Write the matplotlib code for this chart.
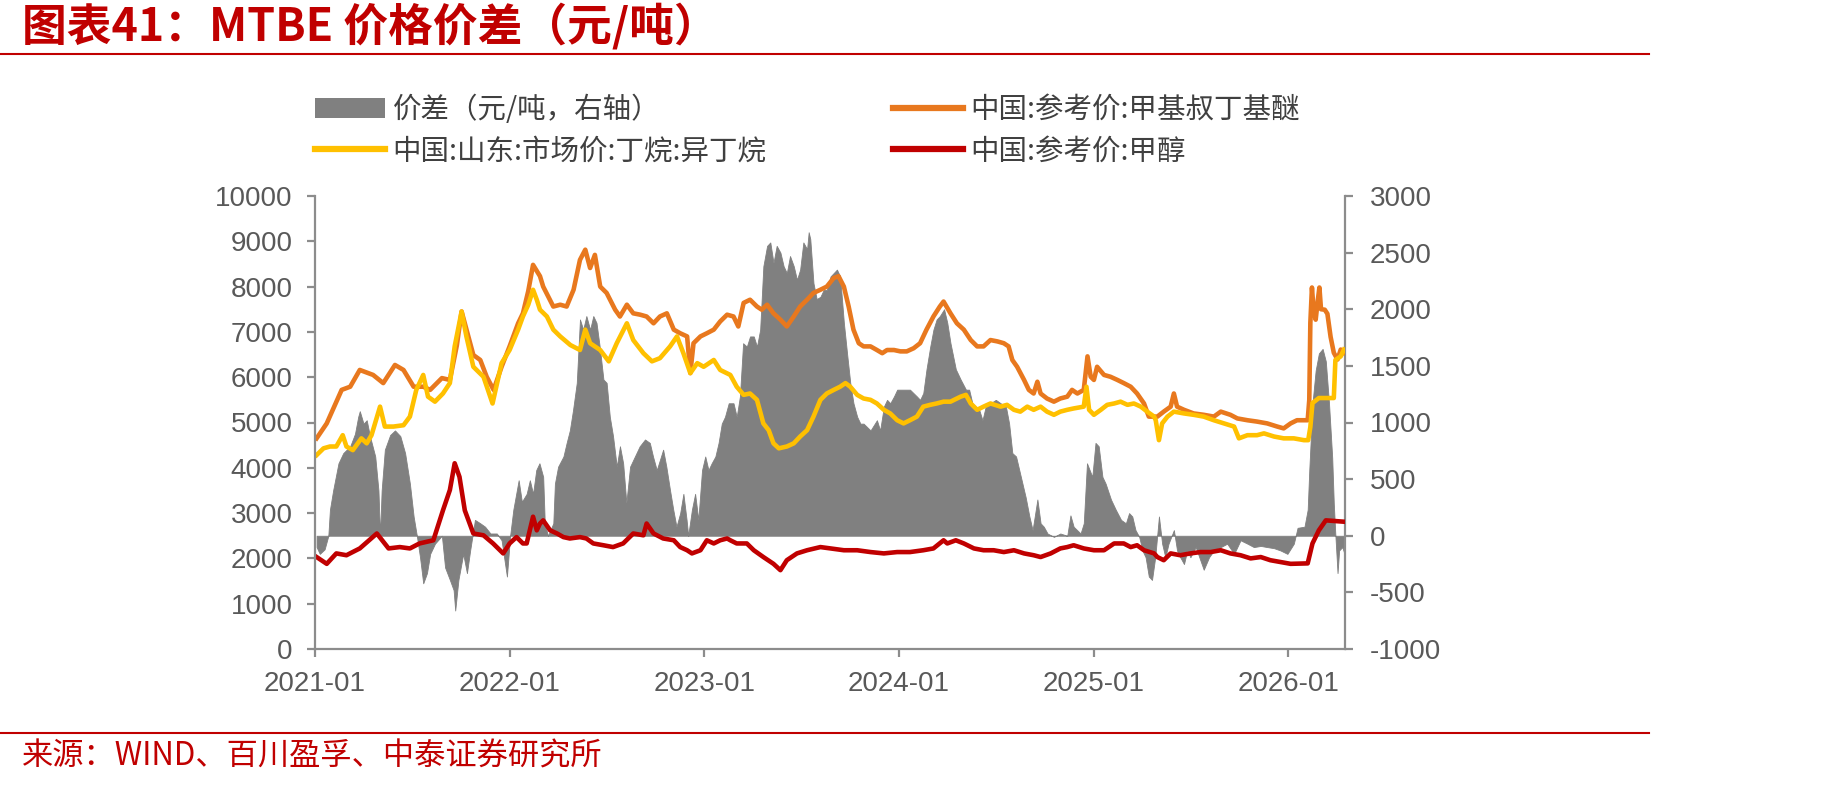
import matplotlib
matplotlib.use("Agg")
import matplotlib.pyplot as plt
from matplotlib.patches import Patch
from matplotlib.lines import Line2D
import pandas as pd

CJK = ['Noto Sans CJK SC', 'DejaVu Sans']
plt.rcParams['font.family'] = ['Liberation Sans', 'Noto Sans CJK SC', 'DejaVu Sans']

title_text = '图表41：MTBE 价格价差（元/吨）'
source_text = '来源：WIND、百川盈孚、中泰证券研究所'
label_spread = '价差（元/吨，右轴）'
label_mtbe = '中国:参考价:甲基叔丁基醚'
label_butane = '中国:山东:市场价:丁烷:异丁烷'
label_methanol = '中国:参考价:甲醇'

left_ticks = [0, 1000, 2000, 3000, 4000, 5000, 6000, 7000, 8000, 9000, 10000]
right_ticks = [-1000, -500, 0, 500, 1000, 1500, 2000, 2500, 3000]
x_tick_dates = ['2021-01-01', '2022-01-01', '2023-01-01', '2024-01-01', '2025-01-01', '2026-01-01']
x_tick_labels = ['2021-01', '2022-01', '2023-01', '2024-01', '2025-01', '2026-01']

mtbe_dates = [
    '2021-01-04', '2021-01-23', '2021-02-20', '2021-03-08', '2021-03-26', '2021-04-20', '2021-05-09', '2021-05-31',
    '2021-06-16', '2021-07-05', '2021-07-23', '2021-08-05', '2021-08-27', '2021-09-11', '2021-09-24', '2021-10-03',
    '2021-10-25', '2021-11-07', '2021-11-19', '2021-12-02', '2021-12-17', '2022-01-01', '2022-01-17', '2022-01-26',
    '2022-02-05', '2022-02-14', '2022-02-27', '2022-03-05', '2022-03-24', '2022-04-06', '2022-04-18', '2022-05-01',
    '2022-05-13', '2022-05-23', '2022-06-01', '2022-06-10', '2022-06-20', '2022-07-02', '2022-07-18', '2022-07-27',
    '2022-08-09', '2022-08-21', '2022-09-03', '2022-09-15', '2022-09-28', '2022-10-10', '2022-10-23', '2022-11-05',
    '2022-11-17', '2022-11-30', '2022-12-06', '2022-12-12', '2022-12-25', '2023-01-06', '2023-01-19', '2023-01-31',
    '2023-02-13', '2023-02-25', '2023-03-06', '2023-03-16', '2023-03-28', '2023-04-10', '2023-04-19', '2023-04-29',
    '2023-05-11', '2023-05-24', '2023-06-05', '2023-06-18', '2023-06-30', '2023-07-13', '2023-07-25', '2023-08-07',
    '2023-08-19', '2023-09-01', '2023-09-10', '2023-09-20', '2023-09-29', '2023-10-08', '2023-10-18', '2023-10-27',
    '2023-11-09', '2023-11-21', '2023-12-01', '2023-12-10', '2023-12-23', '2024-01-04', '2024-01-16', '2024-01-29',
    '2024-02-10', '2024-02-22', '2024-03-06', '2024-03-18', '2024-03-25', '2024-04-07', '2024-04-19', '2024-05-02',
    '2024-05-15', '2024-05-27', '2024-06-08', '2024-06-21', '2024-07-04', '2024-07-16', '2024-07-25', '2024-08-01',
    '2024-08-10', '2024-08-23', '2024-09-01', '2024-09-10', '2024-09-17', '2024-09-23', '2024-10-05', '2024-10-18',
    '2024-10-30', '2024-11-12', '2024-11-21', '2024-12-01', '2024-12-13', '2024-12-20', '2024-12-26', '2025-01-01',
    '2025-01-07', '2025-01-20', '2025-02-01', '2025-02-14', '2025-02-26', '2025-03-11', '2025-03-23', '2025-04-05',
    '2025-04-14', '2025-04-30', '2025-05-12', '2025-05-25', '2025-05-31', '2025-06-06', '2025-06-19', '2025-07-07',
    '2025-07-26', '2025-08-14', '2025-08-27', '2025-09-14', '2025-09-27', '2025-10-16', '2025-11-03', '2025-11-22',
    '2025-12-11', '2025-12-23', '2026-01-05', '2026-01-17', '2026-02-06', '2026-02-09', '2026-02-11', '2026-02-14',
    '2026-02-17', '2026-02-21', '2026-02-25', '2026-02-28', '2026-03-03', '2026-03-10', '2026-03-15', '2026-03-21',
    '2026-03-27', '2026-04-03', '2026-04-09', '2026-04-15']
mtbe_values = [
    4650, 4980, 5720, 5790, 6160, 6050, 5870, 6270,
    6160, 5790, 5790, 5720, 5980, 5940, 6700, 7450,
    6490, 6380, 6010, 5720, 6230, 6680, 7190, 7410,
    7900, 8480, 8230, 8000, 7560, 7600, 7560, 7930,
    8590, 8815, 8410, 8700, 8000, 7860, 7490, 7340,
    7600, 7410, 7380, 7340, 7190, 7340, 7410, 7050,
    6970, 6900, 6090, 6750, 6900, 6970, 7050, 7230,
    7380, 7340, 7120, 7640, 7710, 7560, 7490, 7600,
    7410, 7270, 7120, 7340, 7560, 7710, 7860, 7930,
    8000, 8190, 8230, 8000, 7560, 7050, 6750, 6680,
    6680, 6600, 6530, 6600, 6600, 6570, 6570, 6640,
    6750, 7050, 7340, 7560, 7670, 7410, 7190, 7050,
    6820, 6680, 6680, 6820, 6790, 6750, 6680, 6380,
    6230, 5940, 5720, 5640, 5900, 5640, 5530, 5460,
    5530, 5570, 5720, 5640, 5720, 6460, 6010, 5940,
    6230, 6050, 6010, 5940, 5870, 5790, 5640, 5420,
    5130, 5130, 5240, 5350, 5640, 5350, 5280, 5200,
    5170, 5130, 5240, 5170, 5090, 5050, 5020, 4980,
    4910, 4870, 4980, 5050, 5050, 5500, 7200, 7980,
    7500, 7270, 7700, 7980, 7500, 7490, 7400, 6890,
    6540, 6390, 6610, 6540]

butane_dates = [
    '2021-01-04', '2021-01-17', '2021-01-29', '2021-02-10', '2021-02-22', '2021-03-01', '2021-03-13', '2021-03-29',
    '2021-04-08', '2021-04-17', '2021-05-03', '2021-05-12', '2021-05-28', '2021-06-16', '2021-06-28', '2021-07-10',
    '2021-07-23', '2021-08-01', '2021-08-14', '2021-08-29', '2021-09-11', '2021-09-20', '2021-10-03', '2021-10-12',
    '2021-10-25', '2021-11-13', '2021-11-30', '2021-12-17', '2022-01-01', '2022-01-17', '2022-01-26', '2022-02-05',
    '2022-02-14', '2022-02-21', '2022-02-27', '2022-03-12', '2022-03-24', '2022-04-06', '2022-04-25', '2022-05-13',
    '2022-05-23', '2022-06-01', '2022-06-20', '2022-07-06', '2022-07-21', '2022-08-09', '2022-08-21', '2022-09-09',
    '2022-09-25', '2022-10-10', '2022-10-29', '2022-11-11', '2022-11-23', '2022-12-06', '2022-12-19', '2022-12-31',
    '2023-01-19', '2023-01-31', '2023-02-19', '2023-03-03', '2023-03-16', '2023-03-28', '2023-04-10', '2023-04-22',
    '2023-05-02', '2023-05-11', '2023-05-21', '2023-06-05', '2023-06-18', '2023-06-30', '2023-07-13', '2023-07-25',
    '2023-08-07', '2023-08-19', '2023-09-01', '2023-09-13', '2023-09-23', '2023-10-02', '2023-10-15', '2023-10-27',
    '2023-11-09', '2023-11-21', '2023-12-04', '2023-12-16', '2023-12-29', '2024-01-10', '2024-01-22', '2024-02-04',
    '2024-02-16', '2024-02-29', '2024-03-12', '2024-03-25', '2024-04-07', '2024-04-26', '2024-05-06', '2024-05-15',
    '2024-05-27', '2024-06-08', '2024-06-21', '2024-07-10', '2024-07-22', '2024-08-04', '2024-08-16', '2024-08-29',
    '2024-09-10', '2024-09-23', '2024-10-05', '2024-10-18', '2024-10-30', '2024-11-12', '2024-11-24', '2024-12-13',
    '2024-12-18', '2024-12-23', '2025-01-01', '2025-01-14', '2025-01-26', '2025-02-08', '2025-02-20', '2025-03-05',
    '2025-03-17', '2025-03-30', '2025-04-11', '2025-04-24', '2025-04-27', '2025-05-03', '2025-05-09', '2025-05-19',
    '2025-05-31', '2025-06-19', '2025-07-07', '2025-07-26', '2025-08-14', '2025-09-02', '2025-09-21', '2025-09-30',
    '2025-10-16', '2025-11-03', '2025-11-16', '2025-12-05', '2025-12-23', '2026-01-11', '2026-01-30', '2026-02-07',
    '2026-02-11', '2026-02-15', '2026-02-27', '2026-03-27', '2026-03-30', '2026-04-09', '2026-04-15']
butane_values = [
    4280, 4430, 4470, 4470, 4720, 4470, 4390, 4650,
    4540, 4720, 5350, 4910, 4910, 4940, 5130, 5720,
    6050, 5570, 5460, 5640, 5870, 6680, 7450, 6900,
    6230, 6010, 5420, 6310, 6600, 7050, 7340, 7600,
    7930, 7710, 7490, 7340, 7050, 6900, 6710, 6600,
    7050, 6750, 6600, 6350, 6750, 7190, 6820, 6530,
    6350, 6420, 6680, 6900, 6530, 6090, 6310, 6230,
    6380, 6160, 6050, 5790, 5610, 5640, 5500, 4980,
    4830, 4540, 4430, 4470, 4540, 4690, 4830, 5130,
    5500, 5640, 5720, 5790, 5870, 5790, 5610, 5530,
    5500, 5420, 5280, 5200, 5050, 4980, 5050, 5130,
    5350, 5390, 5420, 5460, 5460, 5570, 5610, 5420,
    5280, 5350, 5420, 5350, 5390, 5280, 5240, 5350,
    5280, 5350, 5240, 5170, 5240, 5280, 5310, 5350,
    5790, 5280, 5170, 5280, 5390, 5420, 5460, 5390,
    5420, 5350, 5240, 5130, 5050, 4610, 4980, 5130,
    5240, 5200, 5170, 5130, 5050, 4980, 4910, 4650,
    4720, 4720, 4760, 4690, 4650, 4650, 4610, 4610,
    4900, 5430, 5540, 5540, 6380, 6460, 6610]

methanol_dates = [
    '2021-01-04', '2021-01-23', '2021-02-10', '2021-03-01', '2021-03-26', '2021-04-27', '2021-05-19', '2021-06-09',
    '2021-06-28', '2021-07-16', '2021-08-11', '2021-08-29', '2021-09-11', '2021-09-20', '2021-09-29', '2021-10-09',
    '2021-10-25', '2021-11-13', '2021-12-01', '2021-12-20', '2022-01-01', '2022-01-14', '2022-01-26', '2022-02-02',
    '2022-02-14', '2022-02-21', '2022-02-27', '2022-03-05', '2022-03-18', '2022-03-31', '2022-04-12', '2022-04-24',
    '2022-05-13', '2022-05-25', '2022-06-07', '2022-06-26', '2022-07-14', '2022-08-02', '2022-08-21', '2022-09-09',
    '2022-09-15', '2022-09-28', '2022-10-16', '2022-11-05', '2022-11-17', '2022-11-30', '2022-12-09', '2022-12-25',
    '2023-01-06', '2023-01-19', '2023-01-31', '2023-02-13', '2023-02-19', '2023-03-03', '2023-03-22', '2023-04-04',
    '2023-04-22', '2023-05-11', '2023-05-24', '2023-06-05', '2023-06-24', '2023-07-13', '2023-08-07', '2023-08-26',
    '2023-09-20', '2023-10-15', '2023-11-09', '2023-12-04', '2023-12-29', '2024-01-22', '2024-02-16', '2024-03-06',
    '2024-03-25', '2024-04-01', '2024-04-17', '2024-05-02', '2024-05-21', '2024-06-08', '2024-06-27', '2024-07-16',
    '2024-08-04', '2024-08-23', '2024-09-10', '2024-09-23', '2024-10-12', '2024-10-30', '2024-11-12', '2024-11-24',
    '2024-12-13', '2025-01-01', '2025-01-20', '2025-02-08', '2025-02-26', '2025-03-11', '2025-03-23', '2025-04-05',
    '2025-04-24', '2025-04-30', '2025-05-12', '2025-05-25', '2025-06-12', '2025-07-01', '2025-07-20', '2025-08-08',
    '2025-08-27', '2025-09-14', '2025-10-03', '2025-10-22', '2025-11-10', '2025-11-28', '2025-12-17', '2026-01-05',
    '2026-02-06', '2026-02-15', '2026-02-27', '2026-03-12', '2026-04-15']
methanol_values = [
    2030, 1880, 2110, 2070, 2220, 2550, 2220, 2250,
    2220, 2330, 2400, 3060, 3510, 4100, 3800, 3060,
    2550, 2510, 2330, 2110, 2330, 2470, 2330, 2330,
    2920, 2620, 2770, 2840, 2620, 2550, 2470, 2440,
    2470, 2440, 2330, 2290, 2250, 2330, 2550, 2510,
    2770, 2550, 2440, 2400, 2250, 2180, 2110, 2180,
    2400, 2330, 2400, 2440, 2400, 2330, 2330, 2180,
    2030, 1880, 1740, 1960, 2110, 2180, 2250, 2220,
    2180, 2180, 2140, 2110, 2140, 2140, 2180, 2220,
    2400, 2330, 2400, 2330, 2220, 2180, 2180, 2140,
    2180, 2110, 2070, 2030, 2110, 2220, 2250, 2290,
    2220, 2180, 2180, 2330, 2330, 2250, 2290, 2180,
    2110, 2030, 1960, 2110, 2070, 2110, 2140, 2140,
    2180, 2110, 2070, 2000, 2030, 1960, 1920, 1880,
    1890, 2330, 2620, 2840, 2810]

spread_dates = [
    '2021-01-04', '2021-01-10', '2021-01-19', '2021-01-26', '2021-01-29', '2021-02-04', '2021-02-14', '2021-02-23',
    '2021-03-08', '2021-03-17', '2021-03-23', '2021-03-26', '2021-04-02', '2021-04-08', '2021-04-14', '2021-04-24',
    '2021-04-30', '2021-05-03', '2021-05-06', '2021-05-12', '2021-05-22', '2021-05-31', '2021-06-10', '2021-06-19',
    '2021-06-28', '2021-07-05', '2021-07-11', '2021-07-17', '2021-07-23', '2021-07-30', '2021-08-05', '2021-08-14',
    '2021-08-27', '2021-09-02', '2021-09-11', '2021-09-18', '2021-09-21', '2021-09-27', '2021-10-06', '2021-10-13',
    '2021-10-19', '2021-10-28', '2021-11-07', '2021-11-16', '2021-11-26', '2021-12-08', '2021-12-17', '2021-12-27',
    '2022-01-02', '2022-01-08', '2022-01-18', '2022-01-24', '2022-02-02', '2022-02-08', '2022-02-14', '2022-02-20',
    '2022-02-26', '2022-03-05', '2022-03-08', '2022-03-14', '2022-03-24', '2022-03-27', '2022-04-02', '2022-04-12',
    '2022-04-18', '2022-04-24', '2022-04-30', '2022-05-07', '2022-05-13', '2022-05-19', '2022-05-25', '2022-06-01',
    '2022-06-07', '2022-06-13', '2022-06-19', '2022-06-26', '2022-07-02', '2022-07-08', '2022-07-14', '2022-07-21',
    '2022-07-27', '2022-08-02', '2022-08-08', '2022-08-15', '2022-08-24', '2022-09-02', '2022-09-12', '2022-09-21',
    '2022-09-27', '2022-10-04', '2022-10-16', '2022-10-22', '2022-10-29', '2022-11-04', '2022-11-10', '2022-11-17',
    '2022-11-23', '2022-11-29', '2022-12-02', '2022-12-09', '2022-12-15', '2022-12-21', '2022-12-28', '2023-01-03',
    '2023-01-09', '2023-01-15', '2023-01-22', '2023-01-28', '2023-02-03', '2023-02-09', '2023-02-16', '2023-02-25',
    '2023-03-03', '2023-03-09', '2023-03-15', '2023-03-22', '2023-03-28', '2023-04-04', '2023-04-10', '2023-04-16',
    '2023-04-22', '2023-04-29', '2023-05-05', '2023-05-11', '2023-05-17', '2023-05-24', '2023-05-30', '2023-06-05',
    '2023-06-11', '2023-06-18', '2023-06-24', '2023-06-30', '2023-07-06', '2023-07-13', '2023-07-16', '2023-07-19',
    '2023-07-25', '2023-07-31', '2023-08-07', '2023-08-13', '2023-08-19', '2023-08-26', '2023-09-01', '2023-09-07',
    '2023-09-13', '2023-09-20', '2023-09-26', '2023-10-02', '2023-10-08', '2023-10-15', '2023-10-21', '2023-10-27',
    '2023-11-09', '2023-11-21', '2023-11-27', '2023-12-04', '2023-12-10', '2023-12-16', '2023-12-23', '2023-12-29',
    '2024-01-10', '2024-01-22', '2024-02-04', '2024-02-10', '2024-02-16', '2024-02-22', '2024-02-29', '2024-03-06',
    '2024-03-12', '2024-03-18', '2024-03-26', '2024-04-01', '2024-04-07', '2024-04-17', '2024-04-26', '2024-05-06',
    '2024-05-12', '2024-05-18', '2024-05-24', '2024-05-31', '2024-06-06', '2024-06-12', '2024-06-21', '2024-07-01',
    '2024-07-10', '2024-07-20', '2024-07-26', '2024-08-01', '2024-08-08', '2024-08-17', '2024-08-26', '2024-09-02',
    '2024-09-08', '2024-09-17', '2024-09-23', '2024-09-29', '2024-10-06', '2024-10-18', '2024-10-30', '2024-11-12',
    '2024-11-18', '2024-11-24', '2024-12-07', '2024-12-13', '2024-12-19', '2024-12-29', '2025-01-04', '2025-01-10',
    '2025-01-17', '2025-01-23', '2025-02-02', '2025-02-11', '2025-02-21', '2025-03-02', '2025-03-08', '2025-03-14',
    '2025-03-20', '2025-03-27', '2025-04-02', '2025-04-08', '2025-04-14', '2025-04-20', '2025-04-26', '2025-05-03',
    '2025-05-09', '2025-05-15', '2025-05-21', '2025-05-31', '2025-06-06', '2025-06-12', '2025-06-19', '2025-06-25',
    '2025-07-01', '2025-07-11', '2025-07-20', '2025-07-26', '2025-08-05', '2025-08-14', '2025-08-27', '2025-09-08',
    '2025-09-21', '2025-10-03', '2025-10-16', '2025-10-28', '2025-11-10', '2025-11-22', '2025-12-05', '2025-12-17',
    '2025-12-30', '2026-01-11', '2026-01-18', '2026-01-31', '2026-02-06', '2026-02-09', '2026-02-15', '2026-02-21',
    '2026-02-27', '2026-03-06', '2026-03-12', '2026-03-18', '2026-03-24', '2026-03-27', '2026-03-30', '2026-04-03',
    '2026-04-06', '2026-04-12', '2026-04-16']
spread_values = [
    -100, -160, -120, 0, 230, 400, 640, 730,
    790, 900, 1050, 1100, 990, 1020, 880, 700,
    400, 0, 400, 760, 890, 930, 880, 730,
    460, 170, 0, -190, -420, -330, -160, -70,
    0, -280, -390, -480, -660, -390, -160, -330,
    -130, 140, 110, 80, 20, 20, -40, -360,
    0, 230, 490, 300, 370, 490, 370, 580,
    640, 520, 110, 0, 110, 460, 610, 700,
    820, 930, 1110, 1350, 1910, 1820, 1940, 1820,
    1940, 1880, 1670, 1380, 1350, 1050, 880, 610,
    790, 640, 290, 610, 700, 790, 850, 820,
    700, 580, 760, 610, 400, 230, 80, 200,
    370, 140, 0, 230, 370, 140, 580, 700,
    580, 640, 700, 820, 990, 1050, 1170, 1170,
    1050, 1230, 1700, 1670, 1760, 1760, 1670, 1820,
    2380, 2560, 2590, 2410, 2560, 2500, 2380, 2320,
    2470, 2380, 2260, 2350, 2590, 2530, 2680, 2620,
    2230, 2090, 2110, 2170, 2170, 2290, 2320, 2350,
    2290, 1880, 1610, 1350, 1170, 1050, 990, 990,
    930, 1020, 930, 1140, 1200, 1170, 1230, 1290,
    1290, 1290, 1230, 1200, 1260, 1470, 1670, 1820,
    1910, 1940, 2000, 1880, 1700, 1470, 1380, 1290,
    1290, 1170, 1140, 1110, 1020, 1140, 1170, 1200,
    1170, 1140, 990, 730, 700, 520, 340, 170,
    50, 320, 110, 80, 20, -10, 20, 0,
    180, 80, 20, 110, 640, 520, 820, 790,
    520, 460, 320, 230, 140, 110, 200, 170,
    50, -10, -130, -190, -360, -390, -190, 170,
    -70, -190, -70, 50, -130, -190, -250, -130,
    -190, -100, -220, -300, -190, -130, -100, -70,
    -160, -40, -70, -100, -90, -100, -110, -130,
    -160, -70, 70, 80, 230, 580, 1170, 1460,
    1610, 1650, 1540, 1170, 690, 280, 0, -330,
    -130, -100, -160]

COL_GRAY = '#808080'
COL_ORANGE = '#E8781E'
COL_YELLOW = '#FFC000'
COL_RED = '#C00000'
COL_AXIS = '#8C8C8C'
COL_TEXT = '#595959'
COL_TITLE = '#C00000'

W, H = 1830, 786
fig = plt.figure(figsize=(W / 100, H / 100), dpi=100)
fig.patch.set_facecolor('white')

ax_l, ax_r, ax_t, ax_b = 315, 1345, 196, 649
ax = fig.add_axes([ax_l / W, 1 - ax_b / H, (ax_r - ax_l) / W, (ax_b - ax_t) / H])
ax2 = ax.twinx()

ax2.fill_between(pd.to_datetime(spread_dates), spread_values, 0, color=COL_GRAY,
                 linewidth=0.6, edgecolor=COL_GRAY)

ax.set_zorder(ax2.get_zorder() + 1)
ax.patch.set_visible(False)

lw = 3.3
ax.plot(pd.to_datetime(mtbe_dates), mtbe_values, color=COL_ORANGE, lw=lw, solid_joinstyle='round')
ax.plot(pd.to_datetime(butane_dates), butane_values, color=COL_YELLOW, lw=lw, solid_joinstyle='round')
ax.plot(pd.to_datetime(methanol_dates), methanol_values, color=COL_RED, lw=lw, solid_joinstyle='round')

ax.set_xlim(pd.Timestamp('2021-01-01'), pd.Timestamp('2026-04-17'))
ax.set_ylim(left_ticks[0], left_ticks[-1])
ax2.set_ylim(right_ticks[0], right_ticks[-1])
ax.set_yticks(left_ticks)
ax.set_yticklabels([str(v) for v in left_ticks])
ax2.set_yticks(right_ticks)
ax2.set_yticklabels([str(v) for v in right_ticks])
ax.set_xticks(pd.to_datetime(x_tick_dates))
ax.set_xticklabels(x_tick_labels)

for a in (ax, ax2):
    a.spines['top'].set_visible(False)
    for s in a.spines.values():
        s.set_color(COL_AXIS)
        s.set_linewidth(1.6)
    a.tick_params(axis='both', direction='out', length=6, width=1.6, color=COL_AXIS,
                  labelsize=20, labelcolor=COL_TEXT)
ax.spines['right'].set_visible(False)
ax2.spines['left'].set_visible(False)
ax2.spines['bottom'].set_visible(False)
ax.tick_params(axis='y', pad=10)
ax2.tick_params(axis='y', pad=12)
ax.tick_params(axis='x', pad=10)

# legends
fs_leg = 20.5
h_gray = Patch(facecolor=COL_GRAY, edgecolor='none')
h_or = Line2D([], [], color=COL_ORANGE, lw=4.5)
h_ye = Line2D([], [], color=COL_YELLOW, lw=4.5)
h_re = Line2D([], [], color=COL_RED, lw=4.5)
leg_kw = dict(loc='upper left', frameon=False, borderpad=0, borderaxespad=0,
              handlelength=2.45, handletextpad=0.28, labelspacing=0.4,
              prop={'family': CJK, 'size': fs_leg}, labelcolor='#404040')
legA = fig.legend([h_gray, h_ye], [label_spread, label_butane],
                  bbox_to_anchor=(ax_l / W, 1 - 95 / H), **leg_kw)
legB = fig.legend([h_or, h_re], [label_mtbe, label_methanol],
                  bbox_to_anchor=(893 / W, 1 - 95 / H), **leg_kw)

# title, rules, source
fig.text(22 / W, 1 - 27 / H, title_text, fontsize=32.2, color=COL_TITLE, fontweight='bold',
         va='center', ha='left', family=CJK)
fig.add_artist(Line2D([0, 1649 / W], [1 - 54 / H, 1 - 54 / H], color=COL_TITLE, lw=1.5))
fig.add_artist(Line2D([0, 1649 / W], [1 - 733 / H, 1 - 733 / H], color=COL_TITLE, lw=1.5))
fig.text(22 / W, 1 - 757 / H, source_text, fontsize=22.5, color=COL_TITLE, va='center', ha='left', family=CJK)

fig.savefig('out.png', dpi=100, facecolor='white')
